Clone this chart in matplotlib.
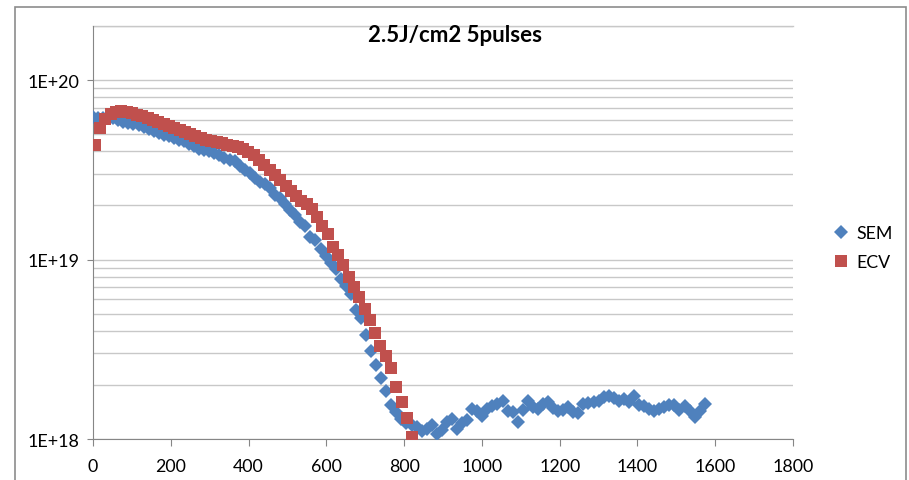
import matplotlib
matplotlib.use("Agg")
import matplotlib.pyplot as plt
from matplotlib.patches import Rectangle
from matplotlib.ticker import LogLocator, FixedLocator, NullFormatter
import numpy as np

plt.rcParams['font.family'] = ['Lato', 'DejaVu Sans']

title = "2.5J/cm2 5pulses"

sem_x = [0, 13, 26, 39, 52, 65, 78, 91, 104, 117, 130, 143, 156, 169, 182, 195,
         208, 221, 234, 247, 260, 273, 286, 299, 312, 325, 338, 351, 364, 377,
         390, 403, 416, 429, 442, 455, 468, 481, 494, 507, 520, 533, 546, 559,
         572, 585, 598, 611, 624, 637, 650, 663, 676, 689, 702, 715, 728, 741,
         754, 767, 780, 793, 806, 819, 832, 845, 858, 871, 884, 897, 910, 923,
         936, 949, 962, 975, 988, 1001, 1014, 1027, 1040, 1053, 1066, 1079,
         1092, 1105, 1118, 1131, 1144, 1157, 1170, 1183, 1196, 1209, 1222, 1235,
         1248, 1261, 1274, 1287, 1300, 1313, 1326, 1339, 1352, 1365, 1378, 1391,
         1404, 1417, 1430, 1443, 1456, 1469, 1482, 1495, 1508, 1521, 1534, 1547,
         1560, 1573]
# values in units of 1e18
sem_v = [62.1, 61.3, 61.3, 61.3, 61.3, 59.8, 58.3, 57.5, 56.8, 56.1, 54.6, 53.2,
         51.9, 50.6, 49.3, 48.7, 47.4, 46.2, 45.6, 43.9, 42.8, 41.2, 40.6, 40.1,
         39.1, 38.1, 36.6, 35.7, 35.3, 33.1, 31.4, 30.2, 28.4, 26.9, 26.2, 24.9,
         22.8, 21.9, 20.3, 18.8, 17.6, 16.1, 15.3, 13.4, 12.8, 11.5, 10.5, 9.6,
         8.9, 7.8, 7.1, 6.4, 5.2, 4.7, 3.8, 3.1, 2.6, 2.2, 1.85, 1.55, 1.42, 1.29,
         1.23, 1.20, 1.17, 1.11, 1.14, 1.20, 1.07, 1.12, 1.24, 1.29, 1.14, 1.23,
         1.28, 1.47, 1.43, 1.34, 1.47, 1.53, 1.57, 1.63, 1.43, 1.42, 1.24, 1.45,
         1.63, 1.51, 1.47, 1.57, 1.61, 1.49, 1.43, 1.45, 1.51, 1.42, 1.40, 1.57,
         1.59, 1.61, 1.63, 1.72, 1.74, 1.69, 1.63, 1.67, 1.61, 1.74, 1.55, 1.53,
         1.47, 1.43, 1.47, 1.51, 1.55, 1.55, 1.45, 1.53, 1.43, 1.33, 1.43, 1.57]

ecv_x = [5, 19, 32, 46, 59, 73, 87, 100, 114, 127, 141, 155, 168, 182, 195, 209,
         223, 236, 250, 263, 277, 291, 304, 318, 331, 345, 359, 372, 386, 399,
         413, 427, 440, 454, 467, 481, 495, 508, 522, 535, 549, 563, 576, 590,
         603, 617, 631, 644, 658, 671, 685, 699, 712, 726, 739, 753, 767, 780,
         794, 807, 821]
ecv_v = [43.4, 53.9, 60.5, 64.8, 66.5, 67.0, 66.5, 65.6, 63.9, 63.0, 61.3, 59.8,
         58.3, 56.9, 55.3, 53.9, 52.6, 51.3, 50.0, 48.7, 47.4, 46.2, 45.6, 45.0,
         44.5, 43.4, 42.8, 42.3, 41.2, 39.6, 38.1, 35.8, 33.6, 31.6, 29.6, 27.7,
         25.6, 24.0, 22.5, 21.3, 20.3, 19.0, 17.2, 15.3, 13.8, 11.8, 10.6, 9.3,
         8.0, 7.0, 6.2, 5.3, 4.6, 3.9, 3.3, 2.9, 2.5, 1.95, 1.61, 1.31, 1.03]

x_ticks = [0, 200, 400, 600, 800, 1000, 1200, 1400, 1600, 1800]
y_ticks = [1e18, 1e19, 1e20]
y_tick_labels = ["1E+18", "1E+19", "1E+20"]

W, H = 909, 481
fig = plt.figure(figsize=(W / 100, H / 100), dpi=100)
fig.patch.set_facecolor("white")

# outer chart border
fig.patches.append(Rectangle((15 / W, -0.1), (906 - 15) / W, 1.1 - 8 / H,
                             transform=fig.transFigure, fill=False,
                             edgecolor="#8c8c8c", linewidth=1.2))

ax = fig.add_axes([93 / W, 1 - 440 / H, (793 - 93) / W, (440 - 27) / H])

grid_c = "#c8c8c8"
axis_c = "#868686"

ax.plot(sem_x, np.array(sem_v) * 1e18, linestyle="none", marker="D",
        markersize=6.8, color="#4F81BD", markeredgewidth=0, label="SEM", zorder=3)
ax.plot(ecv_x, np.array(ecv_v) * 1e18, linestyle="none", marker="s",
        markersize=8.3, color="#C0504D", markeredgewidth=0, label="ECV", zorder=4)

ax.set_yscale("log")
ax.set_ylim(1e18, 2e20)
ax.set_xlim(0, 1800)

ax.xaxis.set_major_locator(FixedLocator(x_ticks))
ax.set_xticklabels([str(t) for t in x_ticks])
ax.yaxis.set_major_locator(FixedLocator(y_ticks))
ax.set_yticklabels(y_tick_labels)
ax.yaxis.set_minor_locator(LogLocator(base=10, subs=np.arange(2, 10), numticks=20))
ax.yaxis.set_minor_formatter(NullFormatter())

ax.grid(True, axis="y", which="both", color=grid_c, linewidth=1.0, zorder=0)
ax.set_axisbelow(True)

for s in ["top", "right"]:
    ax.spines[s].set_visible(False)
ax.spines["left"].set_color(axis_c)
ax.spines["bottom"].set_color(axis_c)
ax.axhline(2e20, color=grid_c, linewidth=1.0, zorder=0, clip_on=False)

ax.tick_params(axis="x", which="major", direction="out", length=5, color=axis_c,
               labelsize=12.8, pad=8.5, labelcolor="black")
ax.tick_params(axis="y", which="major", direction="out", length=4.3, color=axis_c,
               labelsize=13, pad=5.5, labelcolor="black")
ax.tick_params(axis="y", which="minor", length=0)

fig.text(0.5, 1 - 36 / H, title, ha="center", va="center", fontsize=16,
         fontweight="bold")

ax.legend(loc="upper left", bbox_to_anchor=(834 / W, 1 - 226 / H),
          bbox_transform=fig.transFigure, frameon=False, fontsize=12.8,
          handlelength=0.8, handletextpad=0.45, labelspacing=0.75,
          borderaxespad=0, borderpad=0)

fig.savefig("out.png", dpi=100, facecolor="white")
